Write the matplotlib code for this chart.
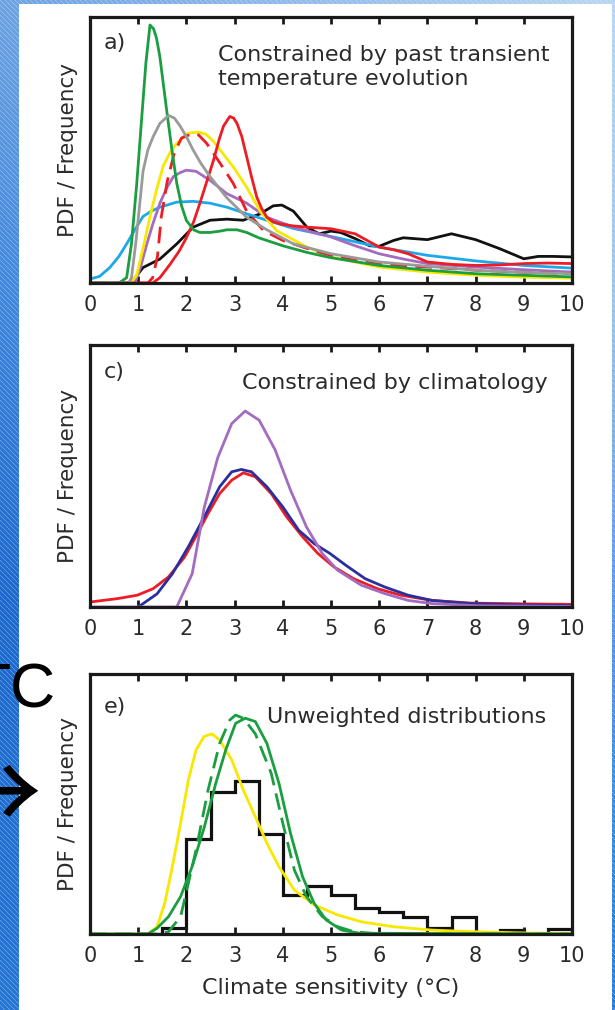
import numpy as np
import matplotlib
matplotlib.use("Agg")
import matplotlib.pyplot as plt

plt.rcParams['font.family'] = ['DejaVu Sans']

# ---------------- data (normalised to axes height) ----------------
xticks = [0, 1, 2, 3, 4, 5, 6, 7, 8, 9, 10]

# panel a
green_a_x = [0, 0.6, 0.76, 0.86, 0.97, 1.07, 1.16, 1.245, 1.32, 1.38, 1.45, 1.52, 1.59, 1.7, 1.8, 1.9, 2.0, 2.15, 2.28, 2.49, 2.7, 2.84, 3.05, 3.25, 3.5, 4.0, 4.5, 5.0, 6.0, 7.0, 8.0, 9.0, 10.0]
green_a_y = [0.0, 0.0, 0.02, 0.147, 0.374, 0.614, 0.828, 0.97, 0.955, 0.92, 0.85, 0.75, 0.65, 0.5, 0.375, 0.29, 0.235, 0.2, 0.19, 0.19, 0.195, 0.2, 0.2, 0.19, 0.17, 0.14, 0.115, 0.095, 0.066, 0.048, 0.035, 0.029, 0.023]

gray_a_x = [0, 0.8, 0.86, 0.95, 1.05, 1.1, 1.2, 1.31, 1.45, 1.63, 1.75, 1.87, 2.0, 2.14, 2.3, 2.49, 2.84, 3.25, 3.67, 4.22, 5.0, 6.0, 7.0, 8.0, 9.0, 10.0]
gray_a_y = [0, 0, 0.02, 0.15, 0.33, 0.42, 0.5, 0.55, 0.6, 0.63, 0.62, 0.59, 0.55, 0.5, 0.45, 0.4, 0.32, 0.247, 0.2, 0.147, 0.11, 0.079, 0.063, 0.048, 0.04, 0.035]

yellow_a_x = [0, 0.85, 0.97, 1.1, 1.245, 1.38, 1.52, 1.66, 1.8, 2.0, 2.1, 2.25, 2.4, 2.55, 2.7, 2.97, 3.25, 3.53, 3.87, 4.5, 5.0, 6.0, 7.0, 8.0, 9.0, 10.0]
yellow_a_y = [0, 0, 0.03, 0.13, 0.25, 0.35, 0.44, 0.49, 0.525, 0.56, 0.565, 0.567, 0.56, 0.535, 0.5, 0.437, 0.36, 0.27, 0.197, 0.135, 0.098, 0.06, 0.041, 0.029, 0.022, 0.018]

reddash_a_x = [0, 1.2, 1.3, 1.4, 1.48, 1.6, 1.75, 1.9, 2.1, 2.25, 2.42, 2.7, 2.97, 3.25, 3.6, 4.0, 4.5, 5.0, 5.5, 6.0, 7.0, 8.0, 9.0, 10.0]
reddash_a_y = [0, 0, 0.02, 0.1, 0.25, 0.38, 0.49, 0.545, 0.56, 0.557, 0.525, 0.45, 0.375, 0.27, 0.197, 0.16, 0.13, 0.104, 0.085, 0.07, 0.06, 0.048, 0.04, 0.035]

red_a_x = [0, 1.3, 1.45, 1.66, 1.85, 2.0, 2.15, 2.28, 2.42, 2.56, 2.68, 2.77, 2.9, 2.98, 3.05, 3.15, 3.25, 3.35, 3.46, 3.56, 3.67, 3.8, 3.94, 4.2, 4.5, 5.0, 5.5, 6.0, 6.3, 6.6, 7.0, 7.5, 8.0, 8.5, 9.0, 9.5, 10.0]
red_a_y = [0, 0, 0.02, 0.07, 0.12, 0.17, 0.23, 0.3, 0.38, 0.46, 0.54, 0.59, 0.626, 0.62, 0.6, 0.55, 0.475, 0.4, 0.323, 0.28, 0.247, 0.23, 0.222, 0.215, 0.21, 0.204, 0.185, 0.135, 0.125, 0.11, 0.079, 0.07, 0.066, 0.068, 0.073, 0.075, 0.073]

purple_a_x = [0, 0.9, 0.95, 1.05, 1.18, 1.3, 1.45, 1.6, 1.73, 1.87, 2.0, 2.2, 2.49, 2.84, 3.25, 3.67, 4.22, 5.0, 5.5, 6.0, 6.5, 7.0, 8.0, 9.0, 10.0]
purple_a_y = [0, 0, 0.01, 0.06, 0.147, 0.22, 0.3, 0.36, 0.4, 0.415, 0.424, 0.42, 0.386, 0.336, 0.3, 0.247, 0.21, 0.173, 0.14, 0.11, 0.09, 0.073, 0.06, 0.05, 0.041]

cyan_a_x = [0, 0.2, 0.41, 0.6, 0.76, 0.93, 1.1, 1.27, 1.45, 1.8, 2.14, 2.49, 2.84, 3.25, 3.67, 4.22, 5.0, 6.0, 7.0, 8.0, 9.0, 10.0]
cyan_a_y = [0.015, 0.025, 0.058, 0.1, 0.147, 0.2, 0.25, 0.27, 0.285, 0.304, 0.307, 0.3, 0.285, 0.26, 0.236, 0.205, 0.175, 0.135, 0.104, 0.083, 0.066, 0.056]

black_a_x = [0, 0.85, 1.1, 1.45, 1.8, 2.14, 2.49, 2.84, 3.18, 3.53, 3.8, 3.98, 4.22, 4.5, 4.75, 5.0, 5.2, 5.5, 5.8, 6.0, 6.3, 6.5, 7.0, 7.5, 8.0, 8.5, 9.0, 9.3, 9.6, 10.0]
black_a_y = [0, 0, 0.058, 0.09, 0.147, 0.21, 0.236, 0.24, 0.236, 0.26, 0.29, 0.293, 0.27, 0.21, 0.185, 0.195, 0.19, 0.167, 0.14, 0.138, 0.16, 0.17, 0.163, 0.185, 0.163, 0.129, 0.091, 0.1, 0.1, 0.098]

# panel c
purple_c_x = [0, 1.8, 2.12, 2.37, 2.65, 2.94, 3.22, 3.51, 3.84, 4.16, 4.49, 4.82, 5.14, 5.63, 6.12, 6.6, 7.1, 8.0, 10.0]
purple_c_y = [0, 0, 0.127, 0.38, 0.57, 0.70, 0.748, 0.713, 0.6, 0.446, 0.306, 0.204, 0.14, 0.083, 0.051, 0.025, 0.013, 0.005, 0.002]

blue_c_x = [1.0, 1.39, 1.71, 2.04, 2.37, 2.69, 2.94, 3.14, 3.35, 3.67, 4.0, 4.33, 4.65, 4.98, 5.31, 5.71, 6.12, 6.6, 7.1, 7.9, 9.0, 10.0]
blue_c_y = [0, 0.05, 0.127, 0.23, 0.344, 0.459, 0.516, 0.525, 0.516, 0.459, 0.382, 0.293, 0.242, 0.204, 0.159, 0.108, 0.076, 0.045, 0.025, 0.013, 0.008, 0.005]

red_c_x = [0, 0.57, 0.98, 1.31, 1.63, 1.96, 2.2, 2.45, 2.69, 2.94, 3.18, 3.43, 3.76, 4.08, 4.41, 4.73, 5.06, 5.47, 5.96, 6.45, 7.1, 7.9, 9.0, 10.0]
red_c_y = [0.019, 0.032, 0.045, 0.07, 0.115, 0.19, 0.27, 0.357, 0.433, 0.484, 0.512, 0.497, 0.433, 0.344, 0.268, 0.204, 0.153, 0.108, 0.07, 0.045, 0.025, 0.015, 0.012, 0.01]

# panel e
hist_edges = [1.0, 1.5, 2.0, 2.5, 3.0, 3.5, 4.0, 4.5, 5.0, 5.5, 6.0, 6.5, 7.0, 7.5, 8.0, 8.5, 9.0, 9.5, 10.0]
hist_vals = [0, 0.022, 0.364, 0.547, 0.588, 0.383, 0.15, 0.185, 0.15, 0.099, 0.086, 0.067, 0.022, 0.064, 0, 0.015, 0, 0.018]

green_e_x = [0, 1.2, 1.39, 1.63, 1.88, 2.12, 2.37, 2.61, 2.82, 3.02, 3.22, 3.43, 3.67, 3.92, 4.16, 4.41, 4.65, 4.9, 5.22, 5.6, 10.0]
green_e_y = [0, 0, 0.022, 0.067, 0.144, 0.26, 0.41, 0.58, 0.71, 0.81, 0.83, 0.817, 0.733, 0.58, 0.387, 0.22, 0.118, 0.054, 0.015, 0.003, 0]

greendash_e_x = [0, 1.4, 1.63, 1.88, 2.04, 2.2, 2.45, 2.69, 2.9, 3.02, 3.18, 3.43, 3.76, 4.0, 4.24, 4.49, 4.82, 5.14, 5.47, 6.0, 10.0]
greendash_e_y = [0, 0, 0.009, 0.067, 0.195, 0.323, 0.554, 0.733, 0.823, 0.842, 0.83, 0.77, 0.618, 0.426, 0.246, 0.144, 0.067, 0.028, 0.009, 0.0, 0]

yellow_e_x = [0, 1.2, 1.39, 1.55, 1.71, 1.88, 2.04, 2.2, 2.37, 2.53, 2.69, 2.94, 3.18, 3.43, 3.67, 3.92, 4.24, 4.65, 5.14, 5.63, 6.29, 7.1, 7.92, 9.0, 10.0]
yellow_e_y = [0, 0, 0.028, 0.118, 0.26, 0.426, 0.592, 0.708, 0.76, 0.77, 0.746, 0.67, 0.554, 0.451, 0.349, 0.259, 0.169, 0.112, 0.073, 0.047, 0.028, 0.015, 0.009, 0.004, 0.002]

# ---------------- figure ----------------
W, H = 615, 1010
fig = plt.figure(figsize=(W / 100, H / 100), dpi=100)

# background: blue gradient with fine diagonal stripes, white page
yy, xx = np.mgrid[0:H, 0:W]
ys = np.array([0, 300, 600, 1010])
left_cols = np.array([[0x6e, 0xa3, 0xe2], [0x3f, 0x86, 0xdc], [0x1c, 0x68, 0xcc], [0x26, 0x76, 0xd4]]) / 255
right_cols = np.array([[0xb8, 0xd5, 0xf3], [0x98, 0xc3, 0xee], [0x55, 0x98, 0xe0], [0x2a, 0x7a, 0xd8]]) / 255
rows = np.arange(H)
L = np.stack([np.interp(rows, ys, left_cols[:, k]) for k in range(3)], axis=1)
R = np.stack([np.interp(rows, ys, right_cols[:, k]) for k in range(3)], axis=1)
t = (xx / (W - 1))[..., None]
img = L[:, None, :] * (1 - t) + R[:, None, :] * t
stripe = ((xx - yy) % 5 == 0)[..., None]
img = np.where(stripe, img * 0.7 + 0.3, img)
page = ((xx >= 19) & (xx < 612) & (yy >= 4))[..., None]
img = np.where(page, 1.0, img)

bg = fig.add_axes([0, 0, 1, 1])
bg.imshow(img, extent=[0, W, H, 0], aspect='auto', interpolation='nearest')
bg.set_xlim(0, W)
bg.set_ylim(H, 0)
bg.axis('off')

def px_axes(left, right, top, bottom):
    return fig.add_axes([left / W, (H - bottom) / H, (right - left) / W, (bottom - top) / H])

txt_col = '#2b2b2b'

def style(ax, letter, letter_y, xlabel=None):
    ax.set_xlim(0, 10)
    ax.set_ylim(0, 1)
    ax.set_xticks(xticks)
    ax.set_yticks([])
    ax.tick_params(axis='x', direction='in', top=True, bottom=True, length=5, width=2,
                   labelsize=15, pad=8.5, labelcolor=txt_col, color='#1a1a1a')
    for s in ax.spines.values():
        s.set_linewidth(2.3)
        s.set_color('#1a1a1a')
    ax.set_ylabel('PDF / Frequency', fontsize=15.5, color=txt_col, labelpad=9)
    ax.text(0.028, letter_y, letter, transform=ax.transAxes, fontsize=16, color=txt_col,
            va='center', ha='left')
    if xlabel:
        ax.set_xlabel(xlabel, fontsize=16, color=txt_col, labelpad=9)

lw = 2.0

# panel a
axa = px_axes(90, 572, 17, 283)
axa.plot(black_a_x, black_a_y, color='#111111', lw=lw)
axa.plot(cyan_a_x, cyan_a_y, color='#1ea8e8', lw=lw)
axa.plot(purple_a_x, purple_a_y, color='#a36cc0', lw=lw)
axa.plot(yellow_a_x, yellow_a_y, color='#f8e800', lw=lw)
axa.plot(reddash_a_x, reddash_a_y, color='#ee1c24', lw=lw, dashes=(6, 3))
axa.plot(red_a_x, red_a_y, color='#ee1c24', lw=lw)
axa.plot(green_a_x, green_a_y, color='#1a9e40', lw=lw)
axa.plot(gray_a_x, gray_a_y, color='#9a9a9a', lw=lw)
style(axa, 'a)', 0.902)
axa.text(0.2656, 0.812, 'Constrained by past transient\ntemperature evolution', transform=axa.transAxes,
         fontsize=16, color=txt_col, ha='left', va='center', linespacing=1.22)

# panel c
axc = px_axes(90, 572, 345, 607)
axc.plot(red_c_x, red_c_y, color='#ee1c24', lw=lw)
axc.plot(blue_c_x, blue_c_y, color='#2b2f9e', lw=lw)
axc.plot(purple_c_x, purple_c_y, color='#a36cc0', lw=lw)
style(axc, 'c)', 0.897)
axc.text(0.950, 0.855, 'Constrained by climatology', transform=axc.transAxes,
         fontsize=16, color=txt_col, ha='right', va='center')

# panel e
axe = px_axes(90, 572, 674, 934)
axe.stairs(hist_vals, hist_edges, color='#111111', lw=2.3, baseline=0)
axe.plot(yellow_e_x, yellow_e_y, color='#f8e800', lw=lw)
axe.plot(greendash_e_x, greendash_e_y, color='#1a9e40', lw=lw, dashes=(6, 3))
axe.plot(green_e_x, green_e_y, color='#1a9e40', lw=lw)
style(axe, 'e)', 0.873, xlabel='Climate sensitivity (°C)')
axe.text(0.946, 0.835, 'Unweighted distributions', transform=axe.transAxes,
         fontsize=16, color=txt_col, ha='right', va='center')

# overlay slide text at the left edge
fig.text(56 / W, (H - 708) / H, 'TC', fontsize=45, color='black', ha='right', va='baseline',
         family='Liberation Sans')
fig.text(42 / W, (H - 800) / H, '→', fontsize=80, color='black', ha='right', va='center',
         family=['Noto Sans CJK JP', 'DejaVu Sans'])

fig.savefig('out.png', dpi=100)
